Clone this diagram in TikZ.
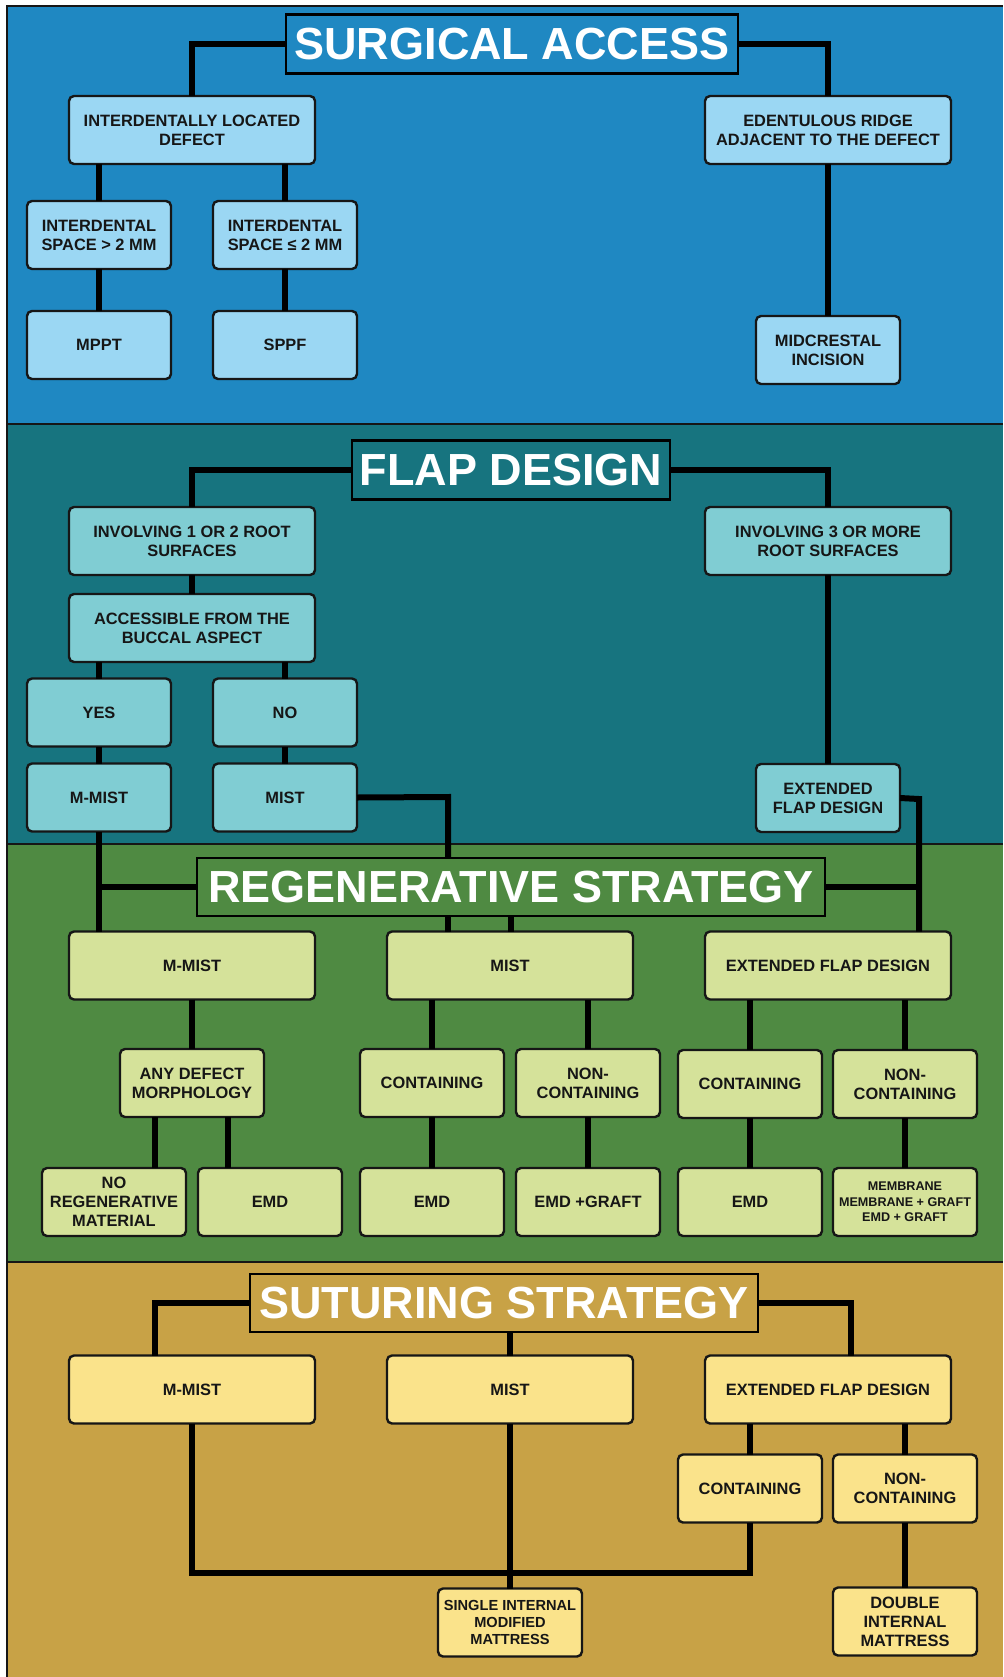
\documentclass[tikz,border=0pt]{standalone}
\usepackage{fontspec}
\setmainfont{Liberation Sans}
\usetikzlibrary{positioning}
\definecolor{Ink}{HTML}{161616}
\definecolor{Sky}{HTML}{1F88C2}
\definecolor{SkyLight}{HTML}{9BD7F3}
\definecolor{Teal}{HTML}{17747F}
\definecolor{TealLight}{HTML}{80CDD3}
\definecolor{Leaf}{HTML}{4F8A42}
\definecolor{LeafLight}{HTML}{D5E29A}
\definecolor{Sand}{HTML}{C8A246}
\definecolor{SandLight}{HTML}{FAE38B}

\begin{document}
\begin{tikzpicture}[x=1pt,y=-1pt,
    box/.style={draw=Ink,line width=2.4pt,rounded corners=5pt,minimum height=68pt,
      inner xsep=2pt,inner ysep=2pt,outer sep=0pt,align=center,text=Ink,
      font=\bfseries\fontsize{16.4}{19}\selectfont},
    wide/.style={box,minimum width=246pt},
    narrow/.style={box,minimum width=144pt},
    head/.style={draw=black,line width=2.5pt,text=white,inner sep=0pt,outer sep=0pt,
      minimum height=59pt,font=\bfseries\fontsize{45}{50}\selectfont},
    link/.style={line width=6pt,black}]
  \useasboundingbox (0,0) rectangle (1003,1677);

  % bands
  \fill[Sky] (7,6) rectangle (1003,424);
  \fill[Teal] (7,424) rectangle (1003,844);
  \fill[Leaf] (7,844) rectangle (1003,1262);
  \fill[Sand] (7,1262) rectangle (1003,1677);
  \draw[line width=2pt,Ink] (7,1677) -- (7,6) -- (1003,6);
  \foreach \y in {424,844,1262}
    \draw[line width=2pt,Ink] (7,\y) -- (1003,\y);

  % surgical access
  \begin{scope}[box/.append style={fill=SkyLight}]
    \node[head,fill=Sky,minimum width=452pt] (t1) at (512,44) {SURGICAL ACCESS};
    \node[wide] (ild) at (192,130) {INTERDENTALLY LOCATED\\DEFECT};
    \node[wide] (erd) at (828,130) {EDENTULOUS RIDGE\\ADJACENT TO THE DEFECT};
    \node[narrow] (sgt) at (99,235) {INTERDENTAL\\SPACE > 2 MM};
    \node[narrow,right=42pt of sgt] (sle) {INTERDENTAL\\SPACE ≤ 2 MM};
    \node[narrow,below=42pt of sgt] (mppt) {MPPT};
    \node[narrow,below=42pt of sle] (sppf) {SPPF};
    \node[narrow] (mci) at (828,350) {MIDCRESTAL\\INCISION};
  \end{scope}
  \draw[link] (t1.west) -| (ild.north);
  \draw[link] (t1.east) -| (erd.north);
  \draw[link] (sgt.north) -- (sgt.north |- ild.south);
  \draw[link] (sle.north) -- (sle.north |- ild.south);
  \draw[link] (sgt) -- (mppt);
  \draw[link] (sle) -- (sppf);
  \draw[link] (erd) -- (mci);

  % flap design
  \begin{scope}[box/.append style={fill=TealLight}]
    \node[head,fill=Teal,minimum width=318pt] (t2) at (511,470) {FLAP DESIGN};
    \node[wide] (inv12) at (192,541) {INVOLVING 1 OR 2 ROOT\\SURFACES};
    \node[wide] (inv3) at (828,541) {INVOLVING 3 OR MORE\\ROOT SURFACES};
    \node[wide,below=19pt of inv12] (acc) {ACCESSIBLE FROM THE\\BUCCAL ASPECT};
    \node[narrow] (yes) at (99,712.5) {YES};
    \node[narrow,right=42pt of yes] (no) {NO};
    \node[narrow,below=17pt of yes] (mm2) {M-MIST};
    \node[narrow,below=17pt of no] (mist2) {MIST};
    \node[narrow] (efd2) at (828,798) {EXTENDED\\FLAP DESIGN};
  \end{scope}
  \draw[link] (t2.west) -| (inv12.north);
  \draw[link] (t2.east) -| (inv3.north);
  \draw[link] (inv12) -- (acc);
  \draw[link] (yes.north) -- (yes.north |- acc.south);
  \draw[link] (no.north) -- (no.north |- acc.south);
  \draw[link] (yes) -- (mm2);
  \draw[link] (no) -- (mist2);
  \draw[link] (inv3) -- (efd2);

  % regenerative strategy
  \coordinate (mbend) at (448,797);
  \coordinate (ebend) at (919,799);
  \draw[link] (mist2.east) -- (mbend) -- (mbend |- 0,858);
  \begin{scope}[box/.append style={fill=LeafLight}]
    \node[head,fill=Leaf,minimum width=628pt,minimum height=58pt] (t3) at (511,887) {REGENERATIVE STRATEGY};
    \node[wide] (mm3) at (192,965.5) {M-MIST};
    \node[wide,right=72pt of mm3] (mist3) {MIST};
    \node[wide,right=72pt of mist3] (efd3) {EXTENDED FLAP DESIGN};
    \node[narrow] (adm) at (192,1083) {ANY DEFECT\\MORPHOLOGY};
    \node[narrow] (con3) at (432,1083) {CONTAINING};
    \node[narrow,right=12pt of con3] (nc3) {NON-\\CONTAINING};
    \node[narrow] (con3e) at (750,1084) {CONTAINING};
    \node[narrow,right=11pt of con3e] (nc3e) {NON-\\CONTAINING};
    \node[narrow] (nrm) at (114,1202) {NO\\REGENERATIVE\\MATERIAL};
    \node[narrow,right=12pt of nrm] (emda) {EMD};
    \node[narrow,below=51pt of con3] (emdb) {EMD};
    \node[narrow,below=51pt of nc3] (emdg) {EMD +GRAFT};
    \node[narrow,below=50pt of con3e] (emdc) {EMD};
    \node[narrow,below=50pt of nc3e,font=\bfseries\fontsize{12.6}{15.5}\selectfont] (mem)
      {MEMBRANE\\MEMBRANE + GRAFT\\EMD + GRAFT};
  \end{scope}
  \draw[link] (mm2.south) -- (mm2.south |- mm3.north);
  \draw[link] (t3.west) -- (t3.west -| mm2.south);
  \draw[link] (mbend |- t3.south) -- (mbend |- mist3.north);
  \draw[link] (t3.south) -- (t3.south |- mist3.north);
  \draw[link] (efd2.east) -- (ebend) -- (ebend |- efd3.north);
  \draw[link] (t3.east) -- (t3.east -| ebend);
  \draw[link] (mm3) -- (adm);
  \draw[link] (con3.north) -- (con3.north |- mist3.south);
  \draw[link] (nc3.north) -- (nc3.north |- mist3.south);
  \draw[link] (con3e.north) -- (con3e.north |- efd3.south);
  \draw[link] (nc3e.north) -- (nc3e.north |- efd3.south);
  \draw[link] ([xshift=-37pt]adm.south) -- ([xshift=-37pt]adm.south |- nrm.north);
  \draw[link] ([xshift=36pt]adm.south) -- ([xshift=36pt]adm.south |- emda.north);
  \draw[link] (con3) -- (emdb);
  \draw[link] (nc3) -- (emdg);
  \draw[link] (con3e) -- (emdc);
  \draw[link] (nc3e) -- (mem);

  % suturing strategy
  \begin{scope}[box/.append style={fill=SandLight}]
    \node[head,fill=Sand,minimum width=508pt,minimum height=58pt] (t4) at (504,1303) {SUTURING STRATEGY};
    \node[wide] (mm4) at (192,1389.5) {M-MIST};
    \node[wide,right=72pt of mm4] (mist4) {MIST};
    \node[wide,right=72pt of mist4] (efd4) {EXTENDED FLAP DESIGN};
    \node[narrow] (con4) at (750,1488.5) {CONTAINING};
    \node[narrow,right=11pt of con4] (nc4) {NON-\\CONTAINING};
    \node[narrow,font=\bfseries\fontsize{14.6}{17}\selectfont] (sim) at (510,1622.5)
      {SINGLE INTERNAL\\MODIFIED\\MATTRESS};
    \node[narrow,below=65pt of nc4] (dim) {DOUBLE\\INTERNAL\\MATTRESS};
  \end{scope}
  \coordinate (sjoin) at (510,1573);
  \draw[link] (t4.west) -| ([xshift=-37pt]mm4.north);
  \draw[link] (t4.east) -| ([xshift=23pt]efd4.north);
  \draw[link] (t4.south -| mist4.north) -- (mist4.north);
  \draw[link] (con4.north) -- (con4.north |- efd4.south);
  \draw[link] (nc4.north) -- (nc4.north |- efd4.south);
  \draw[link] (mm4.south) -- (mm4.south |- sjoin) -| (con4.south);
  \draw[link] (mist4) -- (sim);
  \draw[link] (nc4) -- (dim);
\end{tikzpicture}
\end{document}
